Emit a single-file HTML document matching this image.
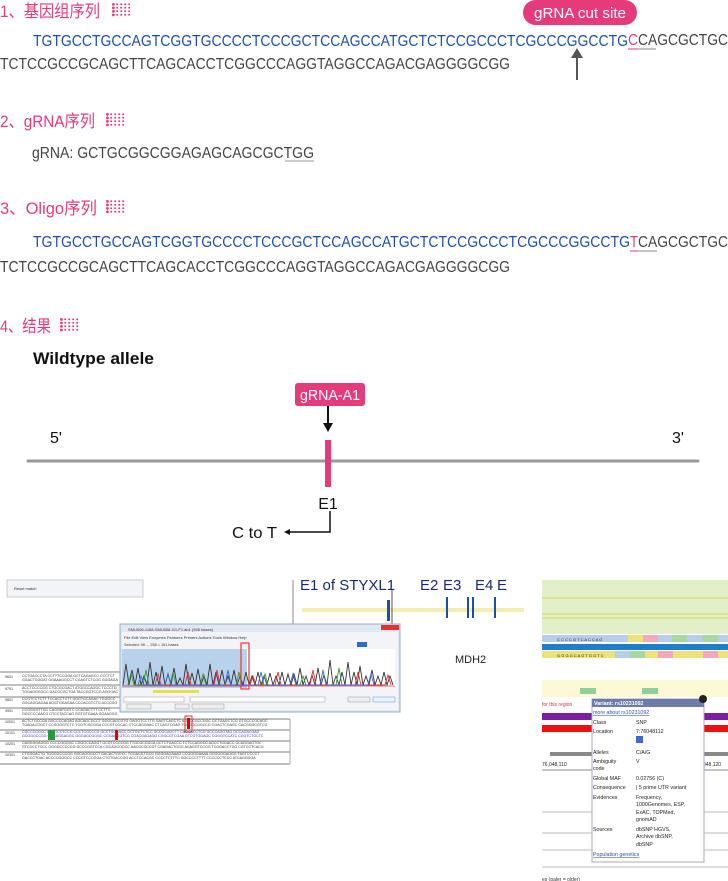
<!DOCTYPE html>
<html><head><meta charset="utf-8"><style>
html,body{margin:0;padding:0;background:#fff;width:728px;height:881px;overflow:hidden}
svg{display:block}
text{font-family:"Liberation Sans","Noto Sans CJK SC",sans-serif}
</style></head><body>
<svg width="728" height="881" viewBox="0 0 728 881" xmlns="http://www.w3.org/2000/svg">
<defs>
<pattern id="dots" width="4" height="3.5" patternUnits="userSpaceOnUse"><circle cx="1.2" cy="1.2" r="1" fill="#e63b7a"/></pattern>
<g id="dicon"><rect x="0" y="0" width="20" height="14" fill="url(#dots)"/><rect x="0" y="0" width="3" height="14" fill="#fff"/><circle cx="1.4" cy="1.4" r="1.4" fill="#e63b7a"/><circle cx="1.4" cy="4.9" r="1.4" fill="#e63b7a"/><circle cx="1.4" cy="8.4" r="1.4" fill="#e63b7a"/><circle cx="1.4" cy="11.9" r="1.4" fill="#e63b7a"/></g>
</defs>
<!-- headings -->
<g fill="#e63b7a" font-size="17">
<text x="0" y="17" textLength="100" lengthAdjust="spacingAndGlyphs">1、基因组序列</text>
<use href="#dicon" x="112" y="3"/>
<text x="0" y="127" textLength="95" lengthAdjust="spacingAndGlyphs">2、gRNA序列</text>
<use href="#dicon" x="106" y="113"/>
<text x="0" y="214" textLength="97" lengthAdjust="spacingAndGlyphs">3、Oligo序列</text>
<use href="#dicon" x="106" y="200"/>
<text x="0" y="332" textLength="51" lengthAdjust="spacingAndGlyphs">4、结果</text>
<use href="#dicon" x="60" y="318"/>
</g>
<!-- seq 1 -->
<g font-size="16">
<text x="33" y="46" fill="#1e4fa8" textLength="595" lengthAdjust="spacingAndGlyphs">TGTGCCTGCCAGTCGGTGCCCCTCCCGCTCCAGCCATGCTCTCCGCCCTCGCCCGGCCTG</text>
<text x="628" y="45" fill="#e63b7a" textLength="10" lengthAdjust="spacingAndGlyphs">C</text>
<text x="638" y="45" fill="#444" textLength="90" lengthAdjust="spacingAndGlyphs">CAGCGCTGC</text>
<line x1="628" y1="49" x2="638" y2="49" stroke="#e63b7a" stroke-width="1"/>
<line x1="638" y1="49" x2="656" y2="49" stroke="#888" stroke-width="1"/>
<text x="0" y="69" fill="#444" textLength="510" lengthAdjust="spacingAndGlyphs">TCTCCGCCGCAGCTTCAGCACCTCGGCCCAGGTAGGCCAGACGAGGGGCGG</text>
</g>
<rect x="523" y="0" width="114" height="25" rx="12.5" fill="#e63b7a"/>
<text x="580" y="18" fill="#fff" font-size="15" text-anchor="middle" textLength="92" lengthAdjust="spacingAndGlyphs">gRNA cut site</text>
<line x1="577" y1="56" x2="577" y2="80" stroke="#555" stroke-width="2"/>
<polygon points="571,58 583,58 577,48" fill="#555"/>
<!-- gRNA -->
<text x="32" y="158" font-size="16" fill="#444" textLength="282" lengthAdjust="spacingAndGlyphs">gRNA: GCTGCGGCGGAGAGCAGCGCTGG</text>
<line x1="285" y1="161" x2="314" y2="161" stroke="#999"/>
<!-- oligo -->
<g font-size="16">
<text x="33" y="247" fill="#1e4fa8" textLength="597" lengthAdjust="spacingAndGlyphs">TGTGCCTGCCAGTCGGTGCCCCTCCCGCTCCAGCCATGCTCTCCGCCCTCGCCCGGCCTG</text>
<text x="630" y="247" fill="#e63b7a" textLength="8" lengthAdjust="spacingAndGlyphs">T</text>
<text x="638" y="247" fill="#444" textLength="90" lengthAdjust="spacingAndGlyphs">CAGCGCTGC</text>
<line x1="630" y1="251" x2="638" y2="251" stroke="#e63b7a"/>
<line x1="638" y1="251" x2="657" y2="251" stroke="#888"/>
<text x="0" y="272" fill="#444" textLength="510" lengthAdjust="spacingAndGlyphs">TCTCCGCCGCAGCTTCAGCACCTCGGCCCAGGTAGGCCAGACGAGGGGCGG</text>
</g>
<text x="33" y="364" font-size="17" font-weight="bold" fill="#111" textLength="121" lengthAdjust="spacingAndGlyphs">Wildtype allele</text>
<!-- diagram -->
<rect x="295" y="383" width="70" height="23" rx="3" fill="#e63b7a"/>
<text x="330" y="400" font-size="15" fill="#fff" text-anchor="middle" textLength="60" lengthAdjust="spacingAndGlyphs">gRNA-A1</text>
<line x1="328" y1="406" x2="328" y2="424" stroke="#111" stroke-width="2"/>
<polygon points="323,423 333,423 328,432" fill="#111"/>
<line x1="28" y1="461" x2="698" y2="461" stroke="#999" stroke-width="3" stroke-linecap="round"/>
<rect x="325" y="440" width="6" height="47" fill="#e63b7a"/>
<text x="50" y="443" font-size="16" fill="#111">5'</text>
<text x="672" y="443" font-size="16" fill="#111">3'</text>
<text x="328" y="509" font-size="16" fill="#111" text-anchor="middle">E1</text>
<polyline points="330,511 330,532 288,532" fill="none" stroke="#111" stroke-width="1.5"/>
<polygon points="284,532 290,529 290,535" fill="#111"/>
<text x="232" y="538" font-size="16" fill="#111" textLength="45" lengthAdjust="spacingAndGlyphs">C to T</text>
<!-- left screenshot -->
<rect x="7" y="580" width="136" height="17" fill="#f3f4f8" stroke="#ccc"/>
<text x="14" y="590" font-size="4" fill="#333">Reset match</text>
<line x1="293" y1="580" x2="293" y2="632" stroke="#888"/>
<text x="300" y="590" font-size="15" fill="#1b2a70">E1 of STYXL1</text>
<text x="420" y="590" font-size="15" fill="#1b2a70">E2</text>
<text x="443" y="590" font-size="15" fill="#1b2a70">E3</text>
<text x="475" y="590" font-size="15" fill="#1b2a70">E4</text>
<text x="497" y="590" font-size="15" fill="#1b2a70">E</text>
<rect x="302" y="608" width="222" height="4" fill="#f2eeb0"/>
<g fill="#1e4fa8"><rect x="387" y="600" width="3" height="21"/><rect x="446" y="597" width="2" height="21"/><rect x="467" y="597" width="2" height="21"/><rect x="472" y="597" width="2" height="21"/><rect x="494" y="597" width="2" height="21"/></g>
<line x1="392" y1="590" x2="392" y2="625" stroke="#555"/>
<text x="455" y="663" font-size="11" fill="#222">MDH2</text>
<!-- seq table -->
<g stroke="#aaa" stroke-width="1.5">
<line x1="0" y1="685" x2="290" y2="685"/><line x1="0" y1="697" x2="290" y2="697"/><line x1="0" y1="708" x2="290" y2="708"/>
<line x1="0" y1="719" x2="290" y2="719"/><line x1="0" y1="730" x2="290" y2="730"/><line x1="0" y1="741" x2="290" y2="741"/><line x1="0" y1="752" x2="290" y2="752"/><line x1="0" y1="764" x2="290" y2="764"/>
<line x1="0" y1="672" x2="120" y2="672"/>
</g>
<g font-family="Liberation Mono" font-size="3.6" fill="#333">
<text x="5" y="678">9601</text><text x="22" y="677">CCTGACCCTA CCTTTCCGGA GCTCAGAGCC CCCTCT</text><text x="22" y="681">GGACTGGGAT GGAAAGGCCT CGAGTCTCGG GGGAGA</text>
<text x="5" y="690">9701</text><text x="22" y="689">ACCTCCCCGG CTGCGCGACT ATGGCCAGGC TCCCTG</text><text x="22" y="693">TGGAGGGGCC GACGCGCTGA TACCGGTCCG AGGGAC</text>
<text x="5" y="701">9801</text><text x="22" y="700">CCGTCCTCTT TCCACCTCTT GGGTGCAGAC TGGGCC</text><text x="22" y="704">GGCAGGAGAA AGGTGGAGAA CCCACGTCTG ACCCGG</text>
<text x="5" y="712">9901</text><text x="22" y="711">CCGGGGTTGC CAGGATGGTC CCAGACTTT CCTTC</text><text x="22" y="715">GGCCCCAACG GTCCTACCAG GGTGTGAAA GGAAGGG</text>
<text x="5" y="723">10001</text><text x="22" y="722">ACTCTGCCGA GGCCCCAGAG AGCAGCGCCT GGGCAGCGTG GAGGTCCTTG GAGTCAGCTC AGCCCGCCGGC GCTGAGCTCG GTGCCCGCAGC</text><text x="22" y="726">TGAGACGGCT CCGGGGTCTC TCGTCGCGGA CCCGTCGCAC CTCCAGGAAC CTCAGTCGAG TCGGGCGGCCG CGACTCGAGC CACGGGCGTCG</text>
<text x="5" y="734">10101</text><text x="22" y="733" fill="#33a">CGCCCGGCC GCCTCCTCCG CCCTCGCCCG GCCTGCCAGC GCTGCTCTCC GCCGCAGCTT CAGCACCTCG GCCCAGGTAG GCCAGACGAG</text><text x="22" y="737" fill="#33a">GCGGGCCGG CGGAGGAGGC GGGAGCGGGC CGGACGGTCG CGACGAGAGG CGGCGTCGAA GTCGTGGAGC CGGGTCCATC CGGTCTGCTC</text>
<text x="5" y="745">10201</text><text x="22" y="744">CAGGGGAGGG CCCCGGGGC CGGGCCAGGT GCGTCCCCGG TTGCGCGGCA GCTCTGACCC TCTCCAGGCC AGCCTGGACC GCAGGAGTGC</text><text x="22" y="748">GTCCCCTCCC GGGGCCCCGG GCCCGGTCCA CGCAGGGGCC AACGCGCCGT CGAGACTGGG AGAGGTCCGG TCGGACCTGG CGTCCTCACG</text>
<text x="5" y="756">10301</text><text x="22" y="755">CTGGGACTG TGGGGCCCGG GGCAGGGCCT GACACTGGCC TGGAGGTGCG GGGGAGAAAG CCGGGGAAAA GGGGGGAGGG TAGTCCCCT</text><text x="22" y="759">GACCCTGAC ACCCCGGGCC CCCGTCCCGGA CTGTGACCGG ACCTCCACGC CCCCTCTTTC GGCCCCTTTT CCCCCCTCCC ATCAGGGGA</text>
</g>
<line x1="290" y1="719" x2="290" y2="764" stroke="#aaa"/>
<rect x="48" y="730" width="7" height="10" fill="#2a9a3a"/>
<rect x="115" y="730" width="3" height="10" fill="#d00"/>
<rect x="187" y="718" width="3" height="11" fill="#d00"/>
<rect x="185" y="716" width="7" height="16" fill="none" stroke="#e33" stroke-width="1"/>
<!-- chromatogram window -->
<rect x="120" y="624" width="280" height="88" fill="#dfe8f3" stroke="#9ab"/>
<rect x="381" y="625" width="18" height="5" fill="#d33"/>
<text x="128" y="631" font-size="4" fill="#333">SMU006-1168-SMU006-G1-F1.ab1 (956 bases)</text>
<rect x="122" y="632" width="276" height="78" fill="#f2f4f8"/>
<text x="124" y="639" font-size="4" fill="#333">File  Edit  View  Enzymes  Features  Primers  Actions  Tools  Window  Help</text>
<text x="124" y="646" font-size="3.8" fill="#333">Selected: 96 ... 256 = 161 bases</text>
<rect x="357" y="642" width="10" height="5" fill="#2a6ec0"/>
<rect x="122" y="649" width="273" height="39" fill="#fff"/>
<rect x="122" y="649" width="125" height="39" fill="#b8d2ee"/>
<g fill="none" stroke-width="0.9">
<path d="M123 685 L126 664 L129 685 L132 670 L135 685 L138 668 L141 685 L144 676 L147 685 L150 662 L153 685 L156 672 L159 685 L162 666 L165 685 L168 674 L171 685 L174 668 L177 685 L180 678 L183 685 L186 664 L189 685 L192 673 L195 685 L198 669 L201 685 L204 676 L207 685 L210 664 L213 685 L216 672 L219 685 L222 670 L225 685 L228 676 L231 685 L234 670 L237 685 L240 676 L243 685 L246 672 L249 685 L252 676 L255 685 L258 672 L261 685 L264 676 L267 685 L270 673 L273 685 L276 676 L279 685 L282 672 L285 685 L288 674 L291 685 L294 674 L297 685 L300 668 L303 685 L306 676 L309 685 L312 675 L315 685 L318 668 L321 685 L324 675 L327 685 L330 660 L333 685 L336 676 L339 685 L342 672 L345 685 L348 662 L351 685 L354 672 L357 685 L360 666 L363 685 L366 676 L369 685 L372 670 L375 685 L378 676 L381 685 L384 672 L387 685 L390 676 L393 685" stroke="#333"/>
<path d="M128 685 L131 673 L134 685 L143 685 L146 670 L149 685 L170 685 L173 672 L176 685 L200 685 L203 674 L206 685 L236 685 L239 672 L242 685 L262 685 L265 674 L268 685 L300 685 L303 676 L306 685 L336 685 L339 668 L342 685" stroke="#3a9a3a"/>
<path d="M155 685 L158 674 L161 685 L185 685 L188 672 L191 685 L214 685 L217 670 L220 685 L250 685 L253 676 L256 685 L275 685 L278 672 L281 685 L310 685 L313 670 L316 685 L355 685 L358 672 L361 685 L385 685 L388 675 L391 685" stroke="#d33"/>
<path d="M138 685 L141 676 L144 685 L165 685 L168 674 L171 685 L225 685 L228 670 L231 685 L258 685 L261 672 L264 685 L290 685 L293 674 L296 685 L320 685 L323 670 L326 685 L368 685 L371 674 L374 685" stroke="#3a6ad0"/>
</g>
<line x1="122" y1="686" x2="395" y2="686" stroke="#d33" stroke-width="0.8"/>
<rect x="241" y="643" width="8" height="46" fill="none" stroke="#e33" stroke-width="1.2"/>
<rect x="153" y="690" width="46" height="3" fill="#e6e04a"/>
<rect x="124" y="697" width="60" height="5" fill="#fff" stroke="#999" stroke-width="0.5"/>
<rect x="190" y="697" width="135" height="5" fill="#fff" stroke="#999" stroke-width="0.5"/>
<rect x="348" y="697" width="22" height="5" fill="#eee" stroke="#999" stroke-width="0.5"/>
<rect x="373" y="697" width="22" height="5" fill="#e8f2fc" stroke="#69c" stroke-width="0.5"/>
<rect x="127" y="704" width="24" height="5" fill="#eee" stroke="#999" stroke-width="0.5"/>
<rect x="175" y="704" width="14" height="5" fill="#eee" stroke="#999" stroke-width="0.5"/>
<rect x="192" y="704" width="32" height="5" fill="#eee" stroke="#999" stroke-width="0.5"/>
<!-- right screenshot -->
<rect x="542" y="580" width="186" height="54" fill="#e3efc8"/>
<g stroke="#c9d85a" stroke-width="1"><line x1="542" y1="598" x2="728" y2="598"/><line x1="542" y1="614" x2="728" y2="614"/><line x1="542" y1="618" x2="728" y2="618"/></g>
<g font-size="4" fill="#222">
<rect x="542" y="635" width="186" height="7" fill="#b8cde8"/>
<rect x="628" y="635" width="15" height="7" fill="#f0e27a"/><rect x="643" y="635" width="15" height="7" fill="#f0aabb"/><rect x="672" y="635" width="15" height="7" fill="#a8d8a0"/><rect x="703" y="635" width="15" height="7" fill="#a8d8a0"/>
<text x="557" y="641">C     C     C     C     G     T     C     A     C     C     A     G</text>
<rect x="542" y="644" width="186" height="6" fill="#1d7fc8"/>
<rect x="542" y="651" width="186" height="7" fill="#f0e27a"/>
<rect x="615" y="651" width="15" height="7" fill="#b8cde8"/><rect x="630" y="651" width="15" height="7" fill="#a8d8a0"/><rect x="658" y="651" width="15" height="7" fill="#f0aabb"/><rect x="703" y="651" width="15" height="7" fill="#f0aabb"/>
<text x="557" y="657">G     G     G     G     C     A     G     T     G     G     T     C</text>
</g>
<rect x="542" y="680" width="186" height="17" fill="#fdf8d6"/>
<rect x="580" y="688" width="16" height="6" fill="#8fcf9c"/><rect x="642" y="688" width="16" height="6" fill="#8fcf9c"/>
<text x="542" y="706" font-size="5" fill="#d33">for this region</text>
<rect x="542" y="713" width="186" height="7" fill="#7b1fa2"/>
<rect x="542" y="725" width="186" height="7" fill="#ee1010"/>
<rect x="550" y="752" width="178" height="4" fill="#888"/>
<line x1="542" y1="770" x2="728" y2="770" stroke="#888"/>
<text x="542" y="766" font-size="5" fill="#222">76,048,110</text>
<text x="703" y="766" font-size="5" fill="#222">048,120</text>
<g stroke="#bbb"><line x1="542" y1="812" x2="728" y2="812"/><line x1="542" y1="833" x2="728" y2="833"/><line x1="542" y1="850" x2="728" y2="850"/><line x1="542" y1="867" x2="728" y2="867"/></g>
<text x="542" y="881" font-size="5" fill="#333">es (paler = older)</text>
<!-- popup -->
<rect x="592" y="699" width="112" height="163" fill="#fff" stroke="#aab" stroke-width="1"/>
<rect x="592" y="699" width="112" height="8" fill="#6d7ba8"/>
<circle cx="703" cy="699" r="4" fill="#222"/>
<g font-size="5.3" fill="#222">
<text x="594" y="705" fill="#fff" font-weight="bold">Variant: rs10231092</text>
<text x="593" y="714" fill="#3050a0" text-decoration="underline">more about rs10231092</text>
<text x="593" y="724">Class</text><text x="636" y="724">SNP</text>
<text x="593" y="733">Location</text><text x="636" y="733">7:76048112</text>
<rect x="636" y="736" width="7" height="7" fill="#3a6ad0"/>
<text x="593" y="754">Alleles</text><text x="636" y="754">C/A/G</text>
<text x="593" y="763">Ambiguity</text><text x="636" y="763">V</text>
<text x="593" y="770">code</text>
<text x="593" y="780">Global MAF</text><text x="636" y="780">0.02756 (C)</text>
<text x="593" y="789">Consequence</text><text x="636" y="789">| 5 prime UTR variant</text>
<text x="593" y="799">Evidences</text><text x="636" y="799">Frequency,</text><text x="636" y="806">1000Genomes, ESP,</text><text x="636" y="814">ExAC, TOPMed,</text><text x="636" y="821">gnomAD</text>
<text x="593" y="831">Sources</text><text x="636" y="831">dbSNP HGVS,</text><text x="636" y="838">Archive dbSNP,</text><text x="636" y="846">dbSNP</text>
<text x="593" y="856" fill="#3050a0" text-decoration="underline">Population genetics</text>
</g>
</svg>
</body></html>
